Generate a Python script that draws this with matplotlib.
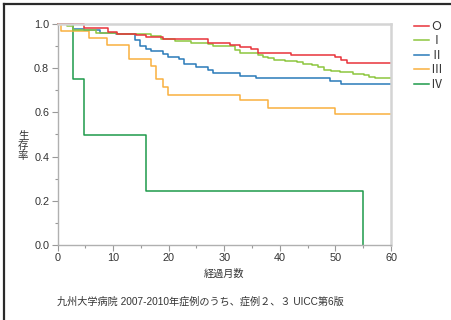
import matplotlib
matplotlib.use("Agg")
import matplotlib.pyplot as plt
from matplotlib.lines import Line2D
from matplotlib.ticker import MultipleLocator

plt.rcParams['font.family'] = ['Liberation Sans', 'Noto Sans CJK JP', 'DejaVu Sans']

# survival curves (time in months, survival rate)
t0 = [0, 4.8, 9.0, 10.7, 14.2, 15.9, 18.9, 27.0, 31.0, 32.8, 34.9, 36.1, 42.0, 49.9, 51.0, 52.0, 60]
s0 = [1.0, 0.983, 0.962, 0.955, 0.950, 0.940, 0.931, 0.915, 0.905, 0.895, 0.885, 0.870,
      0.860, 0.849, 0.837, 0.822, 0.822]

t1 = [0, 1.65, 2.7, 7.0, 10.7, 16.9, 18.7, 21.1, 24.0, 27.0, 28.0, 31.9, 32.8, 36.0, 36.9,
      37.9, 39.0, 40.9, 43.1, 44.2, 45.8, 46.9, 48.0, 49.2, 50.8, 53.2, 55.2, 56.0, 57.1, 60]
s1 = [1.0, 0.993, 0.975, 0.959, 0.954, 0.944, 0.932, 0.924, 0.915, 0.910, 0.900, 0.882,
      0.869, 0.861, 0.852, 0.846, 0.837, 0.833, 0.827, 0.820, 0.814, 0.804, 0.793, 0.787,
      0.783, 0.774, 0.768, 0.760, 0.754, 0.754]

t2 = [0, 2.8, 4.8, 7.7, 10.6, 13.9, 14.8, 15.9, 16.9, 18.9, 19.9, 21.9, 22.8, 25.0, 27.0,
      28.0, 32.8, 35.8, 49.0, 51.0, 60]
s2 = [1.0, 0.979, 0.972, 0.961, 0.953, 0.926, 0.899, 0.888, 0.876, 0.866, 0.852, 0.840,
      0.818, 0.804, 0.792, 0.777, 0.765, 0.754, 0.744, 0.729, 0.729]

t3 = [0, 0.6, 5.7, 8.9, 12.9, 16.8, 17.8, 18.9, 19.9, 32.8, 37.9, 49.9, 60]
s3 = [1.0, 0.967, 0.935, 0.904, 0.840, 0.810, 0.750, 0.714, 0.680, 0.656, 0.621, 0.591, 0.591]

t4 = [0, 2.7, 4.8, 15.9, 55.0]
s4 = [1.0, 0.75, 0.5, 0.245, 0.0]

labels = ['Ｏ', 'Ⅰ', 'Ⅱ', 'Ⅲ', 'Ⅳ']
colors = ['#e8333b', '#8dc63f', '#2a7ab9', '#f9b03f', '#1e9a4a']

fig = plt.figure(figsize=(4.51, 3.2), dpi=100)
ax = fig.add_axes([57.5 / 451, 75 / 320, 333.5 / 451, 221 / 320])

curves = [(t0, s0), (t1, s1), (t2, s2), (t3, s3), (t4, s4)]
# draw the lower ones first so the upper curves sit on top like the original
for (t, s), c in reversed(list(zip(curves, colors))):
    ax.step(t, s, where='post', color=c, lw=1.1, clip_on=False)

ax.set_xlim(0, 60)
ax.set_ylim(0, 1.0)
ax.xaxis.set_major_locator(MultipleLocator(10))
ax.xaxis.set_minor_locator(MultipleLocator(5))
ax.yaxis.set_major_locator(MultipleLocator(0.2))
ax.yaxis.set_minor_locator(MultipleLocator(0.1))
ax.yaxis.set_major_formatter(plt.FuncFormatter(lambda v, p: f"{v:.1f}"))

for side in ['top', 'right']:
    ax.spines[side].set_color('#d4d4d4')
    ax.spines[side].set_linewidth(1.8)
for side in ['left', 'bottom']:
    ax.spines[side].set_color('#b0b0b0')
    ax.spines[side].set_linewidth(1.0)

ax.tick_params(which='major', length=4, width=0.8, color='#999999',
               labelsize=7.8, labelcolor='#333333', pad=2)
ax.tick_params(which='minor', length=2.5, width=0.8, color='#999999')

ax.set_xlabel('経過月数', fontsize=7.3, color='#333333', labelpad=4)
ax.set_ylabel('生\n存\n率', fontsize=7.5, color='#333333', rotation=0,
              linespacing=1.0, va='center', ha='center')
ax.yaxis.set_label_coords(-0.103, 0.45)

handles = [Line2D([], [], color=c, lw=1.1) for c in colors]
ax.legend(handles, labels, loc='upper left', bbox_to_anchor=(414 / 451, 1 - 20 / 320),
          bbox_transform=fig.transFigure, frameon=False,
          prop={'family': 'Noto Sans CJK JP', 'size': 8.5},
          handlelength=1.25, handletextpad=0.15, labelspacing=0.12,
          borderpad=0, borderaxespad=0, labelcolor='#333333')

fig.text(57 / 451, 1 - 302 / 320,
         '九州大学病院 2007-2010年症例のうち、症例２、３ UICC第6版',
         fontsize=7.3, color='#333333', va='center', ha='left')

# dark frame on the top and left edge of the image
fig.add_artist(Line2D([4.3 / 451, 4.3 / 451], [0, 1 - 4.3 / 320],
                      transform=fig.transFigure, color='#2a2a2a', lw=1.6))
fig.add_artist(Line2D([4.3 / 451, 1], [1 - 4.3 / 320, 1 - 4.3 / 320],
                      transform=fig.transFigure, color='#2a2a2a', lw=1.6))

fig.savefig('out.png', dpi=100)
